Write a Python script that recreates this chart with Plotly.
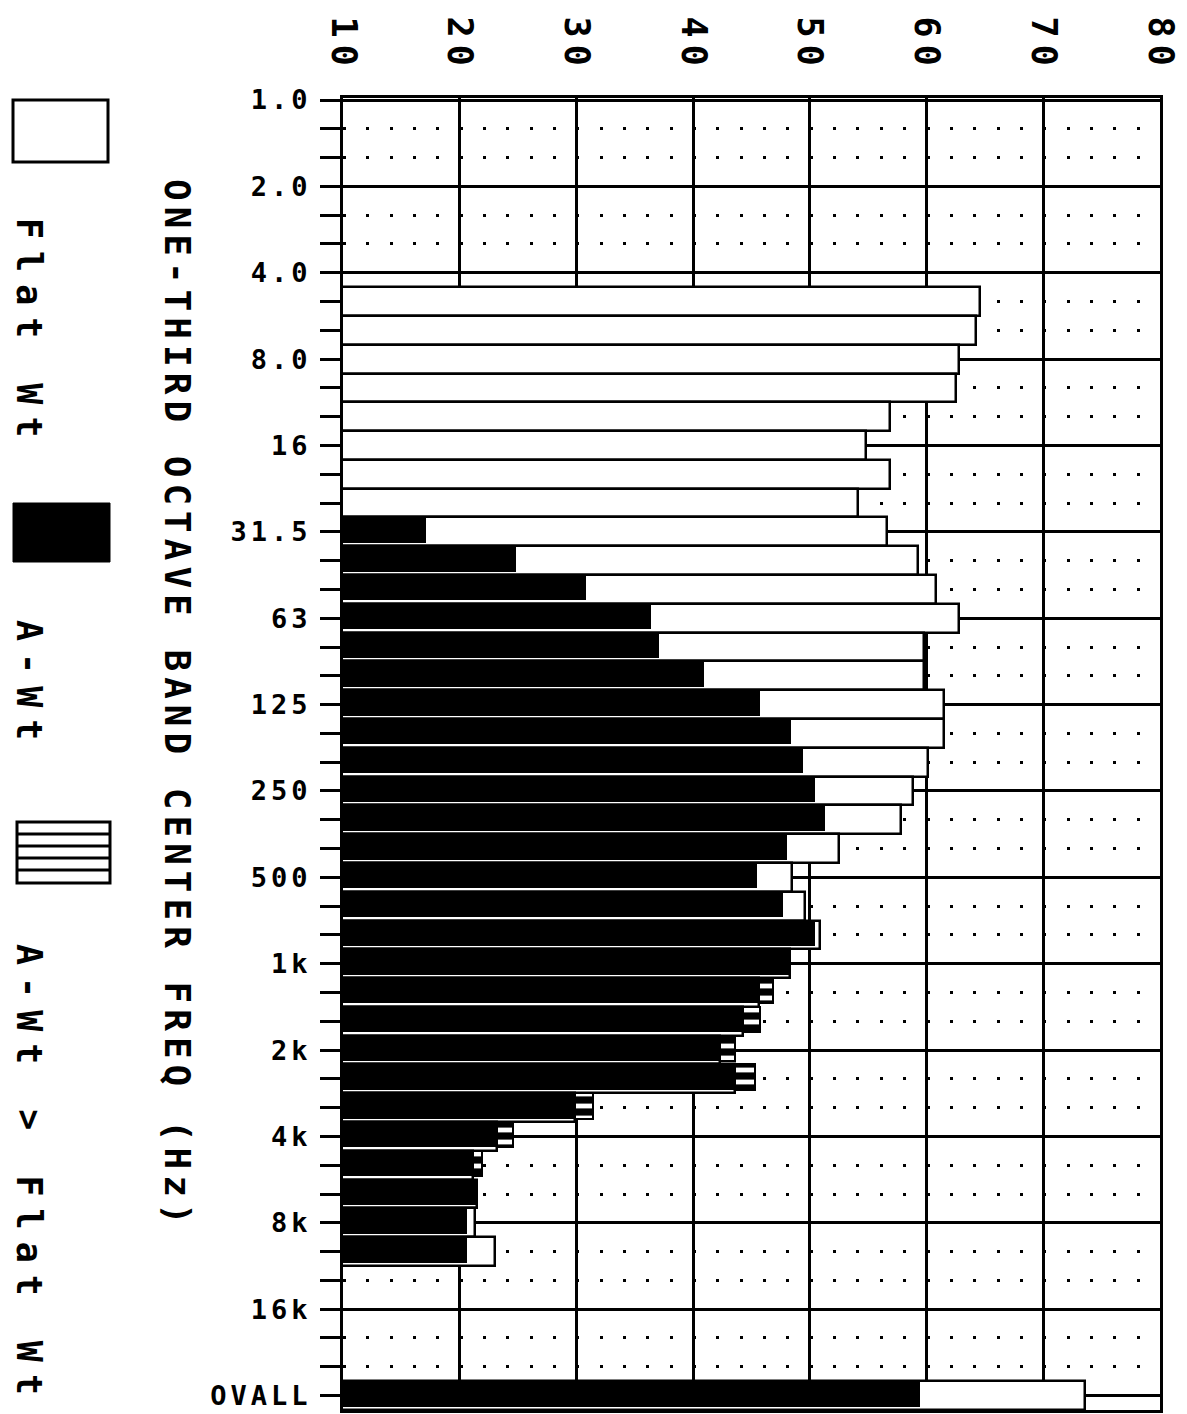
import numpy as np
import plotly.graph_objects as go

# ---------------- data ----------------
bands = ["1.0", "1.25", "1.6", "2.0", "2.5", "3.15", "4.0", "5.0", "6.3", "8.0",
         "10", "12.5", "16", "20", "25", "31.5", "40", "50", "63", "80",
         "100", "125", "160", "200", "250", "315", "400", "500", "630", "800",
         "1k", "1.25k", "1.6k", "2k", "2.5k", "3.15k", "4k", "5k", "6.3k", "8k",
         "10k", "12.5k", "16k", "20k", "25k", "OVALL"]

tick_bands = ["1.0", "2.0", "4.0", "8.0", "16", "31.5", "63", "125", "250",
              "500", "1k", "2k", "4k", "8k", "16k", "OVALL"]

flat_wt = [None, None, None, None, None, None, None, 64.6, 64.2, 62.8,
           62.5, 56.9, 54.8, 56.9, 54.1, 56.6, 59.3, 60.8, 62.8, 59.8,
           59.8, 61.5, 61.5, 60.1, 58.8, 57.8, 52.5, 48.5, 49.6, 50.9,
           48.3, 45.6, 44.3, 42.3, 43.6, 29.9, 23.2, 21.1, 21.5, 21.3,
           23.0, None, None, None, None, 73.6]

a_wt = [None, None, None, None, None, None, None, None, None, None,
        None, None, None, None, None, 17.1, 24.8, 30.8, 36.4, 37.1,
        40.9, 45.7, 48.4, 49.4, 50.4, 51.3, 48.0, 45.5, 47.7, 50.4,
        48.3, 46.8, 45.7, 43.6, 45.3, 31.4, 24.6, 21.9, 21.5, 20.6,
        20.6, None, None, None, None, 59.4]

x_ticks = [10, 20, 30, 40, 50, 60, 70, 80]

# ---------------- derived ----------------
rows = list(range(len(bands)))
tick_rows = [bands.index(b) for b in tick_bands]
minor_rows = [r for r in rows if r not in tick_rows]

black_len = []
excess_base = []
excess_len = []
for f, a in zip(flat_wt, a_wt):
    if f is None or a is None:
        black_len.append(a)
        excess_base.append(None)
        excess_len.append(None)
    else:
        black_len.append(min(a, f))
        if a > f:
            excess_base.append(f)
            excess_len.append(a - f)
        else:
            excess_base.append(None)
            excess_len.append(None)

# ---------------- geometry (page pixels; page body has an 8px margin) ----------------
OFF = 8
W, H = 1187 - OFF, 1414 - OFF
L, R, T, B = 343, 1160, 98, 1410          # plot area in page pixels
ROW_PX = 28.79
Y_TOP = -0.07
Y_BOT = Y_TOP + (B - T) / ROW_PX
PW, PH = R - L, B - T


def px(x):
    return (x - L) / PW


def py(y):
    return (B - y) / PH


FONT = "DejaVu Sans Mono"


def sp(t, ls):
    return f'<span style="letter-spacing:{ls}px">{t}</span>'


fig = go.Figure()

fig.add_trace(go.Bar(
    name="Flat Wt", y=rows, x=flat_wt, orientation="h",
    width=1.0, offset=-0.5,
    marker=dict(color="white", line=dict(color="black", width=2.5)),
    showlegend=False,
))
fig.add_trace(go.Bar(
    name="A-Wt", y=rows, x=black_len, orientation="h",
    width=0.88, offset=-0.5,
    marker=dict(color="black", line=dict(color="black", width=0)),
    showlegend=False,
))
fig.add_trace(go.Bar(
    name="A-Wt > Flat Wt", y=rows, x=excess_len, base=excess_base,
    orientation="h", width=0.88, offset=-0.5,
    marker=dict(color="white", line=dict(color="black", width=2),
                pattern=dict(shape="-", fgcolor="black", bgcolor="white",
                             size=12, solidity=0.6, fillmode="replace")),
    showlegend=False,
))

fig.update_layout(
    width=W, height=H,
    margin=dict(l=L - OFF, r=(W + OFF) - R, t=T - OFF, b=(H + OFF) - B,
                autoexpand=False),
    paper_bgcolor="white", plot_bgcolor="white",
    barmode="overlay", bargap=0,
    font=dict(family=FONT, color="black", size=28, weight="bold"),
    showlegend=False,
)

fig.update_xaxes(
    side="top", range=[10, 80], tickvals=x_ticks,
    ticktext=[sp(str(v), 7) for v in x_ticks],
    tickangle=90, ticks="", ticklabelstandoff=10,
    ticklabeloverflow="allow",
    tickfont=dict(size=35, family=FONT, weight="bold"),
    showgrid=True, gridcolor="black", gridwidth=2.5,
    showline=True, linecolor="black", linewidth=3, mirror=True,
    zeroline=False, automargin=False,
)

fig.update_yaxes(
    range=[Y_BOT, Y_TOP], tickmode="array", tickvals=tick_rows,
    ticktext=[sp(b, 4) for b in tick_bands],
    ticks="outside", ticklen=20, tickwidth=3, tickcolor="black",
    ticklabelstandoff=3, ticklabeloverflow="allow",
    tickfont=dict(size=27, family=FONT, weight="bold"),
    showgrid=True, gridcolor="black", gridwidth=3,
    minor=dict(tickmode="array", tickvals=minor_rows, ticks="outside",
               ticklen=20, tickwidth=3, tickcolor="black",
               showgrid=True, gridcolor="black", gridwidth=3,
               griddash="3px,20.34px"),
    showline=True, linecolor="black", linewidth=3, mirror=True,
    zeroline=False, automargin=False,
)

# axis title (rotated, reading top to bottom)
fig.add_annotation(
    xref="paper", yref="paper", x=px(178), y=py(705),
    text=sp("ONE-THIRD OCTAVE BAND CENTER FREQ (Hz)", 6),
    textangle=90, showarrow=False, xanchor="center", yanchor="middle",
    font=dict(size=36, family=FONT, weight="bold"),
)

# custom rotated legend
shapes = [
    dict(type="rect", xref="paper", yref="paper",
         x0=px(13), x1=px(108), y0=py(162), y1=py(100),
         line=dict(color="black", width=3), fillcolor="white"),
    dict(type="rect", xref="paper", yref="paper",
         x0=px(13), x1=px(110), y0=py(562), y1=py(503),
         line=dict(color="black", width=1), fillcolor="black"),
    dict(type="rect", xref="paper", yref="paper",
         x0=px(17), x1=px(110), y0=py(883), y1=py(822),
         line=dict(color="black", width=3), fillcolor="white"),
]
for yy in [834, 846, 858, 870]:
    shapes.append(dict(type="line", xref="paper", yref="paper",
                       x0=px(17), x1=px(110), y0=py(yy), y1=py(yy),
                       line=dict(color="black", width=3)))
fig.update_layout(shapes=shapes)

legend_items = [("Flat Wt", 334), ("A-Wt", 686), ("A-Wt > Flat Wt", 1175)]
for txt, yc in legend_items:
    fig.add_annotation(
        xref="paper", yref="paper", x=px(29), y=py(yc),
        text=sp(txt, 12), textangle=90, showarrow=False,
        xanchor="center", yanchor="middle", borderpad=0,
        font=dict(size=35, family=FONT, weight="bold"),
    )

fig.write_html("out.html")
